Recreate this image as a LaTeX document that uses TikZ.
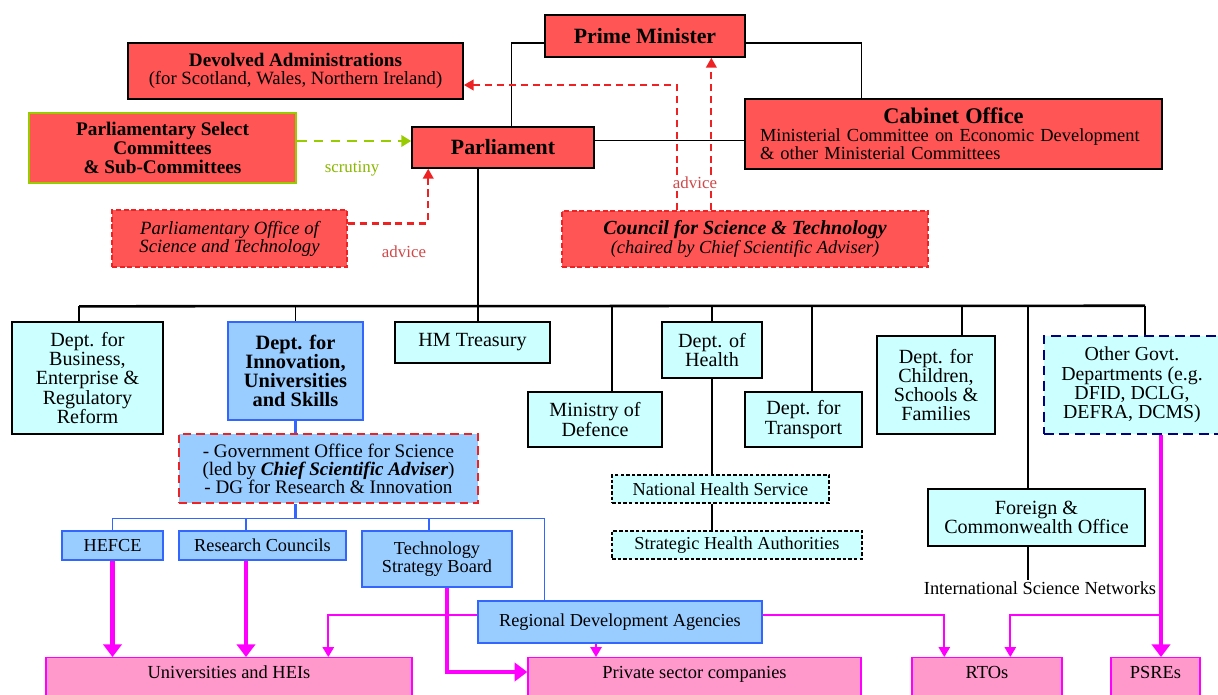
\documentclass[tikz,border=0pt]{standalone}
\usepackage{fontspec}
\setmainfont{Liberation Serif}
\usepackage{xcolor}
\definecolor{gov_red}{HTML}{FF5555}
\definecolor{gov_cyan}{HTML}{CCFFFF}
\definecolor{gov_blue}{HTML}{99CCFF}
\definecolor{gov_blueline}{HTML}{3366FF}
\definecolor{gov_pink}{HTML}{FF99CC}
\definecolor{gov_magenta}{HTML}{FF00FF}
\definecolor{gov_green}{HTML}{99CC00}
\definecolor{gov_navy}{HTML}{000080}
\definecolor{gov_dashred}{HTML}{EE2222}
\definecolor{gov_advice}{HTML}{D04848}
\usetikzlibrary{positioning,calc,arrows.meta}
\newcommand{\pxu}{0.025cm}
\tikzset{SIZE/.style 2 args={minimum width=#1*\pxu,minimum height=#2*\pxu}}
\tikzset{REDBOX/.style={rectangle,draw=black,line width=1.1pt,fill=gov_red,inner sep=0pt,align=center,font=\fontsize{13.3}{12.8}\selectfont}}
\tikzset{HEAD/.style={font=\fontsize{15.5}{16}\selectfont\bfseries}}
\tikzset{DASHRED/.style={rectangle,draw=gov_dashred,line width=0.9pt,dash pattern=on 3.5pt off 2pt,fill=gov_red,inner sep=0pt,align=center}}
\tikzset{DEPT/.style={rectangle,draw=black,line width=1pt,fill=gov_cyan,inner sep=0pt,align=center,font=\fontsize{14.3}{13.7}\selectfont}}
\tikzset{NHSBOX/.style={rectangle,draw=black,line width=0.8pt,dash pattern=on 2.5pt off 1.5pt,fill=gov_cyan,inner sep=0pt,align=center,font=\fontsize{13}{13}\selectfont}}
\tikzset{BLUEBOX/.style={rectangle,draw=gov_blueline,line width=1pt,fill=gov_blue,inner sep=0pt,align=center,font=\fontsize{13}{12.8}\selectfont}}
\tikzset{PINKBOX/.style={rectangle,draw=gov_magenta,line width=1pt,fill=gov_pink,anchor=north,inner xsep=0pt,inner ysep=3*\pxu,text height=18*\pxu,text depth=24*\pxu,font=\fontsize{13.1}{13}\selectfont}}
\tikzset{LABEL/.style={inner sep=1pt,font=\fontsize{12}{12}\selectfont}}
\tikzset{LINE/.style={draw=black,line width=1pt}}
\tikzset{BUS/.style={draw=black,line width=1.8pt}}
\tikzset{BLUELINE/.style={draw=gov_blueline,line width=1pt}}
\tikzset{MAGTHICK/.style={draw=gov_magenta,line width=3.5pt,-{Triangle[length=9pt,width=13pt]}}}
\tikzset{MAGTHIN/.style={draw=gov_magenta,line width=1.2pt,-{Triangle[length=7pt,width=8pt]}}}
\tikzset{ADVICE/.style={draw=gov_dashred,line width=1.5pt,dash pattern=on 5pt off 3.5pt,-{Triangle[length=7pt,width=7.5pt]}}}
\tikzset{SCRUTINY/.style={draw=gov_green,line width=1.8pt,dash pattern=on 7pt off 5pt,-{Triangle[length=7pt,width=8pt]}}}

\begin{document}
\begin{tikzpicture}[x=\pxu,y=-\pxu]

\useasboundingbox (0,0) rectangle (1218,695);

% government at the top
\node[REDBOX,HEAD,SIZE={200}{42}] (n_pm) at (645,36) {Prime Minister};
\node[REDBOX,SIZE={335}{56}] (n_devolved) at (295.5,71) {{\fontsize{13.6}{12.8}\selectfont\bfseries Devolved Administrations}\\(for Scotland, Wales, Northern Ireland)};
\node[REDBOX,draw=gov_green,SIZE={267}{70},font=\fontsize{13.7}{13.5}\selectfont\bfseries] (n_select) at (162.5,148) {Parliamentary Select\\Committees\\\& Sub-Committees};
\node[REDBOX,HEAD,SIZE={182}{41}] (n_parliament) at (503,147.5) {Parliament};
\node[REDBOX,SIZE={417}{70},text width=387*\pxu,align=left,font=\fontsize{13.1}{12.8}\selectfont] (n_cabinet) at (953.5,134) {\hfill{\fontsize{15.9}{12.8}\selectfont\bfseries Cabinet Office}\hfill\null\\Ministerial Committee on Economic Development\\\& other Ministerial Committees};
\node[DASHRED,SIZE={235}{57},font=\fontsize{13.3}{12.8}\selectfont\itshape] (n_post) at (229.5,238.5) {Parliamentary Office of\\Science and Technology};
\node[DASHRED,SIZE={366}{56},font=\fontsize{13.1}{13.5}\selectfont\itshape] (n_cst) at (745,239) {{\fontsize{14.2}{13.5}\selectfont\bfseries Council for Science \& Technology}\\(chaired by Chief Scientific Adviser)};

\draw[LINE] ($(n_pm.west)+(0,7)$) -| ($(n_parliament.north west)+(100,0)$);
\draw[LINE] ($(n_pm.east)+(0,7)$) -| ($(n_cabinet.north west)+(117,0)$);
\coordinate (c_parl_e) at ($(n_parliament.east)+(0,-7)$);
\draw[LINE] (c_parl_e) -- (c_parl_e -| n_cabinet.west);

\coordinate (c_sel_out) at ($(n_select.east)+(0,-7)$);
\draw[SCRUTINY] (c_sel_out) -- (c_sel_out -| n_parliament.west);
\node[LABEL,text=gov_green!90!black] (l_scrutiny) at (352,169) {scrutiny};

\draw[ADVICE] ($(n_post.east)+(0,-15)$) -| ($(n_parliament.south west)+(17,0)$);
\node[LABEL,text=gov_advice] (l_advice_post) at (404,252) {advice};

\coordinate (c_cst_a) at ($(n_cst.north west)+(116,0)$);
\draw[ADVICE] (c_cst_a) |- ($(n_devolved.east)+(0,14)$);
\coordinate (c_cst_b) at ($(n_cst.north west)+(150,0)$);
\draw[ADVICE] (c_cst_b) -- (c_cst_b |- n_pm.south);
\node[LABEL,text=gov_advice,fill=white] (l_advice_cst) at (695,183) {advice};

% departments
\node[DEPT,SIZE={151}{112}] (n_berr) at (87.5,378) {Dept. for\\Business,\\Enterprise \&\\Regulatory\\Reform};
\node[DEPT,draw=gov_blueline,line width=2pt,fill=gov_blue,SIZE={135}{98},font=\fontsize{14.5}{13.7}\selectfont\bfseries] (n_dius) at (295.5,371) {Dept. for\\Innovation,\\Universities\\and Skills};
\node[DEPT,SIZE={155}{41}] (n_hmt) at (472.5,342.5) {HM Treasury};
\node[DEPT,SIZE={134}{55}] (n_mod) at (595,419.5) {Ministry of\\Defence};
\node[DEPT,SIZE={100}{56}] (n_doh) at (712,350) {Dept. of\\Health};
\node[DEPT,SIZE={117}{55}] (n_dft) at (803.5,419.5) {Dept. for\\Transport};
\node[DEPT,SIZE={118}{98}] (n_dcsf) at (936,385) {Dept. for\\Children,\\Schools \&\\Families};
\node[DEPT,draw=gov_navy,line width=1.8pt,dash pattern=on 7pt off 4pt,SIZE={176}{98},font=\fontsize{14.1}{13.7}\selectfont] (n_ogd) at (1132,385) {Other Govt.\\Departments (e.g.\\DFID, DCLG,\\DEFRA, DCMS)};
\node[DEPT,SIZE={217}{57}] (n_fco) at (1036.5,517.5) {Foreign \&\\Commonwealth Office};
\node[NHSBOX,SIZE={217}{28}] (n_nhs) at (720.5,489) {National Health Service};
\node[NHSBOX,SIZE={250}{28}] (n_sha) at (737,545) {Strategic Health Authorities};
\node[LABEL,font=\fontsize{13.1}{13}\selectfont] (l_isn) at (1040,588) {International Science Networks};

\coordinate (c_parl_s) at ($(n_parliament.south west)+(67,0)$);
\draw[BUS] (c_parl_s) -- (c_parl_s |- n_hmt.north);
\coordinate (c_bus_l) at ($(n_berr.north)+(-8.5,-15)$);
\coordinate (c_bus_r) at ($(n_ogd.north)+(13,-29)$);
\draw[BUS] (c_bus_l) -- (c_bus_r);
\foreach \n/\dx in {n_berr/-8.5, n_dius/0, n_mod/17, n_doh/0, n_dft/8.5, n_dcsf/26, n_fco/-8.5, n_ogd/13}{
  \coordinate (c_top) at ($(\n.north)+(\dx,0)$);
  \draw[LINE] (c_top) -- (c_top |- c_bus_l);
}
\draw[LINE] (n_doh.south) -- (n_doh.south |- n_nhs.north);
\draw[LINE] (n_nhs.south -| n_doh.south) -- (n_sha.north -| n_doh.south);
\coordinate (c_fco_out) at ($(n_fco.south)+(-8.5,0)$);
\draw[LINE] (c_fco_out) -- (c_fco_out |- l_isn.north);

% science bodies
\node[DEPT,draw=gov_dashred,line width=1.8pt,dash pattern=on 6pt off 3.5pt,fill=gov_blue,SIZE={299}{69},font=\fontsize{13.6}{12.8}\selectfont] (n_goscience) at (328.5,468.5) {- Government Office for Science\\(led by \textbf{\textit{Chief Scientific Adviser}})\\- DG for Research \& Innovation};
\node[BLUEBOX,SIZE={101}{29}] (n_hefce) at (112.5,545.5) {HEFCE};
\node[BLUEBOX,SIZE={167}{29}] (n_rc) at (262.5,545.5) {Research Councils};
\node[BLUEBOX,SIZE={150}{56}] (n_tsb) at (437,559) {Technology\\Strategy Board};
\node[BLUEBOX,SIZE={284}{42}] (n_rda) at (620,622) {Regional Development Agencies};

\draw[BLUELINE,line width=1.6pt] (n_dius.south) -- (n_dius.south |- n_goscience.north);
\coordinate (c_gos_out) at (n_goscience.south -| n_dius.south);
\coordinate (c_bluebus) at ($(c_gos_out)+(0,14)$);
\draw[BLUELINE,line width=1.6pt] (c_gos_out) -- (c_bluebus);
\coordinate (c_rda_in) at ($(n_rda.north west)+(67,0)$);
\draw[BLUELINE] (n_hefce.north) |- (c_bluebus -| c_rda_in) -- (c_rda_in);
\foreach \n/\dx in {n_rc/-16.5, n_tsb/-8}{
  \coordinate (c_top) at ($(\n.north)+(\dx,0)$);
  \draw[BLUELINE] (c_top) -- (c_top |- c_bluebus);
}

% receivers
\node[PINKBOX,minimum width=366*\pxu] (n_univ) at (229,657) {Universities and HEIs};
\node[PINKBOX,minimum width=333*\pxu] (n_private) at (694.5,657) {Private sector companies};
\node[PINKBOX,minimum width=150*\pxu] (n_rtos) at (987,657) {RTOs};
\node[PINKBOX,minimum width=89*\pxu] (n_psres) at (1155.5,657) {PSREs};

\draw[MAGTHICK] (n_hefce.south) -- (n_hefce.south |- n_univ.north);
\coordinate (c_rc_out) at ($(n_rc.south)+(-16.5,0)$);
\draw[MAGTHICK] (c_rc_out) -- (c_rc_out |- n_univ.north);
\draw[MAGTHICK] ($(n_tsb.south)+(10,0)$) |- ($(n_private.north west)+(0,15)$);
\coordinate (c_ogd_out) at ($(n_ogd.south)+(29,0)$);
\draw[MAGTHICK] (c_ogd_out) -- (c_ogd_out |- n_psres.north);

\coordinate (c_rda_w) at ($(n_rda.west)+(0,-7)$);
\draw[MAGTHIN] (c_rda_w) -| ($(n_univ.north west)+(283,0)$);
\coordinate (c_rda_e) at ($(n_rda.east)+(0,-7)$);
\draw[MAGTHIN] (c_rda_e) -| ($(n_rtos.north west)+(33,0)$);
\draw[MAGTHIN] (c_ogd_out |- c_rda_e) -| ($(n_rtos.north west)+(99,0)$);
\coordinate (c_rda_s) at ($(n_rda.south)+(-24,0)$);
\draw[MAGTHIN] (c_rda_s) -- (c_rda_s |- n_private.north);

\end{tikzpicture}
\end{document}
